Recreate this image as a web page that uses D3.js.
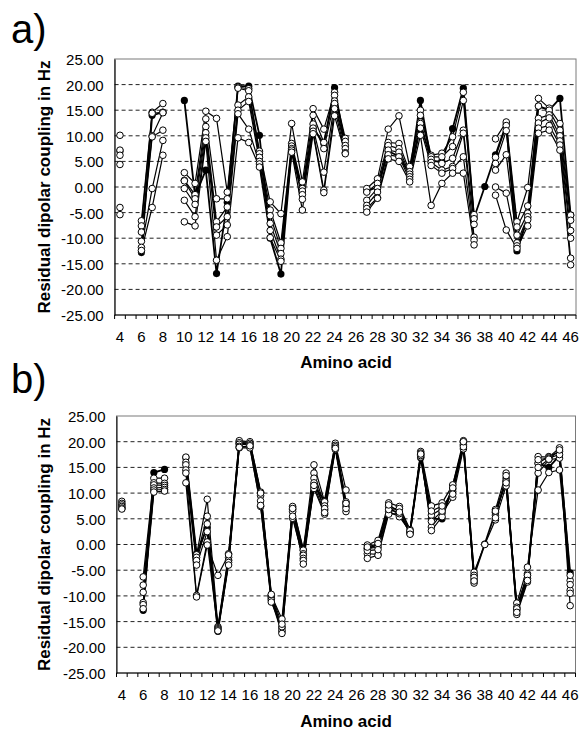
<!DOCTYPE html>
<html>
<head>
<meta charset="utf-8">
<script src="https://cdn.jsdelivr.net/npm/d3@7"></script>
<style>
  body { margin: 0; background: #fff; }
  svg { display: block; }
  text { font-family: "Liberation Sans", Arial, Helvetica, sans-serif; fill: #000; }
</style>
</head>
<body>
<svg id="chart" width="581" height="731"></svg>
<script>
// ============================= Datos =========================//
var residues = [4, 5, 6, 7, 8, 9, 10, 11, 12, 13, 14, 15, 16, 17, 18, 19, 20, 21, 22, 23, 24, 25,
  26, 27, 28, 29, 30, 31, 32, 33, 34, 35, 36, 37, 38, 39, 40, 41, 42, 43, 44, 45, 46];
var xLabels = [4, 6, 8, 10, 12, 14, 16, 18, 20, 22, 24, 26, 28, 30, 32, 34, 36, 38, 40, 42, 44, 46];
var yTicks = [-25, -20, -15, -10, -5, 0, 5, 10, 15, 20, 25];

// experimental couplings (filled circles), same in both panels
var experimental = [7.0, null, -12.8, 14.0, 14.6, null, 16.9, -1.8, 3.3, -16.9, -3.0, 19.7, 19.7, 10.1, -10.0, -17.0, 7.2, -1.1, 11.5, 8.5, 19.4, 8.0,
  null, -0.8, 0.0, 7.0, 6.0, 2.5, 16.9, 5.0, 5.0, 11.4, 19.3, -6.0, 0.1, 6.3, 12.3, -12.5, -6.0, 15.8, 15.0, 17.3, -5.5];

// panel a) calculated structures (open circles)
var calcA1 = [10.1, null, -6.6, 14.6, 16.3, null, 2.8, 0.7, 14.8, 13.4, -1.0, 19.5, 19.2, 7.0, -2.9, -5.2, 12.4, 1.0, 15.3, 11.3, 18.5, 9.5,
  null, -0.3, 1.6, 11.3, 13.9, 4.0, 15.0, 6.2, 6.6, 9.8, 18.5, -5.4, null, 9.4, 12.7, -6.8, -0.1, 17.3, 15.4, 12.4, -5.5];
var calcA2 = [7.2, null, -7.6, 14.4, 14.6, null, 1.3, -1.5, 13.3, -2.3, -2.3, 19.3, 18.8, 6.5, -4.5, -10.9, 8.5, -0.3, 14.0, 8.7, 17.9, 8.9,
  null, -1.0, 0.7, 8.7, 8.5, 3.0, 14.0, 5.9, 5.9, 7.9, 16.9, -6.2, null, 5.8, 12.0, -7.8, -3.7, 15.8, 15.0, 11.1, -6.5];
var calcA3 = [6.2, null, -8.8, 10.0, 14.5, null, 1.2, -2.3, 11.8, -6.8, -3.9, 16.0, 17.6, 5.8, -5.6, -12.0, 8.0, -0.8, 12.3, 7.5, 16.8, 8.1,
  null, -2.6, -0.3, 8.1, 7.5, 2.5, 12.7, 5.4, 4.6, 5.6, 11.1, -7.3, null, 4.6, 11.0, -9.4, -5.1, 13.4, 14.1, 10.0, -8.5];
var calcA4 = [4.4, null, -10.6, 9.8, 11.1, null, -0.3, -3.4, 10.6, -7.8, -5.8, 15.0, 16.7, 5.0, -7.1, -13.0, 7.5, -1.5, 11.5, 2.9, 16.3, 7.5,
  null, -3.6, -1.0, 7.2, 6.8, 2.0, 12.4, 4.8, 3.3, 4.0, 10.5, -9.8, null, 3.3, 6.3, -10.9, -5.8, 12.5, 13.5, 9.0, -10.0];
var calcA5 = [-4.0, null, -11.8, -0.3, 9.1, null, -2.6, -5.8, 9.6, -9.4, -7.4, 14.3, 11.3, 4.5, -8.5, -14.1, 7.2, -2.4, 10.9, -0.6, 15.3, 6.7,
  null, -4.2, -2.1, 6.3, 5.9, 1.5, 11.5, 4.2, 2.7, 3.6, 5.9, -10.4, null, 0.0, -1.2, -11.5, -6.4, 11.5, 12.0, 8.2, -13.9];
var calcA6 = [-5.4, null, -12.4, -4.0, 6.2, null, -6.8, -7.6, 8.9, -14.3, -9.7, 9.6, 8.7, 3.9, -9.9, -14.5, 6.8, -4.5, 10.4, -1.1, 13.9, 6.5,
  null, -4.9, -2.2, 5.5, 5.0, 1.0, 10.1, -3.6, 0.7, 2.7, 2.7, -11.3, null, -1.6, -8.4, -12.0, -7.6, 10.5, 11.1, 7.2, -15.2];

// panel b) calculated structures (open circles)
var calcB1 = [8.4, null, -6.3, 12.9, 12.9, null, 17.0, -2.0, 8.8, -16.0, -1.8, 20.2, 20.0, 10.2, -9.9, -14.5, 7.4, -1.1, 15.5, 8.3, 19.7, 10.6,
  null, -0.1, 0.8, 8.1, 7.4, 2.9, 18.1, 7.5, 8.1, 11.6, 20.2, -5.4, 0.0, 4.8, 11.4, -11.4, -4.4, 10.6, 14.0, 14.5, -7.0];
var calcB2 = [8.0, null, -7.9, 12.0, 11.9, null, 16.0, -2.5, 5.5, -16.2, -2.5, 19.8, 19.7, 9.5, -10.2, -16.2, 6.8, -1.8, 13.9, 7.5, 19.3, 8.3,
  null, -0.8, -0.5, 7.4, 6.7, 2.1, 17.0, 5.7, 7.0, 10.3, 19.4, -6.0, null, 5.7, 12.9, -12.2, -5.7, 13.9, 16.5, 16.8, -8.9];
var calcB3 = [7.7, null, -9.3, 11.6, 11.5, null, 15.5, -3.1, 4.0, -16.4, -3.1, 19.5, 19.4, 8.5, -10.5, -16.7, 6.4, -2.1, 12.9, 6.7, 18.9, 7.4,
  null, -1.8, -1.9, 6.4, 5.4, 2.5, 17.5, 3.4, 6.1, 9.2, 18.6, -6.8, null, 6.8, 13.9, -12.8, -6.6, 15.8, 17.1, 18.1, -11.9];
var calcB4 = [7.4, null, -11.3, 11.0, 11.1, null, 14.5, -4.0, 2.5, -16.6, -3.5, 19.1, 19.0, 7.4, -10.8, -17.3, 5.1, -2.7, 10.9, 5.9, 18.5, 6.4,
  null, -2.7, -2.1, 5.9, 6.0, 2.3, 17.8, 2.7, 5.4, 10.8, 19.8, -7.5, null, 6.2, 12.4, -13.6, -7.3, 17.1, 17.0, 18.8, -6.0];
var calcB5 = [7.1, null, -11.7, 10.6, 10.7, null, 13.9, -9.9, 0.5, -16.8, -4.0, 18.8, 18.8, 7.6, -11.2, -16.0, 5.5, -3.1, 12.0, 7.0, 19.0, 7.0,
  null, -1.2, -1.0, 6.8, 7.0, 2.7, 17.3, 4.5, 6.5, 11.0, 19.0, -6.4, null, 5.2, 13.4, -12.5, -6.0, 16.5, 16.8, 17.5, -9.5];
var calcB6 = [6.9, null, -12.5, 10.2, 10.4, null, 12.0, -10.2, -0.1, -6.0, -2.0, 18.9, 19.2, 10.0, -9.7, -15.5, 7.0, -3.8, 11.5, 6.2, 18.7, 8.0,
  null, -0.5, 0.2, 7.7, 6.3, 2.0, 17.6, 6.5, 7.5, 9.8, 20.0, -7.1, null, 6.5, 12.0, -13.2, -7.0, 15.0, 16.6, 18.4, -7.8];

// ============================= Armado de paneles =========================//
var svg = d3.select('#chart');

var fmt = d3.formatLocale({decimal: '.', thousands: ',', grouping: [3], currency: ['', ''], minus: '-'}).format('.2f');

var panels = [
  {tag: 'a)', tagY: 43, left: 114.6, right: 576, top: 59, bottom: 315, xLabelY: 342, titleY: 368,
    calc: [calcA1, calcA2, calcA3, calcA4, calcA5, calcA6]},
  {tag: 'b)', tagY: 393, left: 116.5, right: 575.5, top: 416, bottom: 673, xLabelY: 700, titleY: 727,
    calc: [calcB1, calcB2, calcB3, calcB4, calcB5, calcB6]}
];

function drawPanel(p) {
  var g = svg.append('g');

  var x = d3.scaleLinear().domain([3.5, 46.5]).range([p.left, p.right]);
  var y = d3.scaleLinear().domain([-25, 25]).range([p.bottom, p.top]);

  // plot area border
  g.append('rect')
    .attr('x', p.left).attr('y', p.top)
    .attr('width', p.right - p.left).attr('height', p.bottom - p.top)
    .attr('fill', 'none').attr('stroke', '#7a7a7a').attr('stroke-width', 1);

  // dashed gridlines
  g.selectAll('.grid')
    .data(yTicks.filter(function(d) { return d > -25 && d < 25; }))
    .enter().append('line')
      .attr('class', 'grid')
      .attr('x1', p.left).attr('x2', p.right)
      .attr('y1', function(d) { return y(d); })
      .attr('y2', function(d) { return y(d); })
      .attr('stroke', '#222').attr('stroke-width', 1)
      .attr('stroke-dasharray', '4,3');

  // y axis
  var yAxis = d3.axisLeft(y).tickValues(yTicks).tickSize(0).tickPadding(11).tickFormat(fmt);
  var ya = g.append('g').attr('transform', 'translate(' + p.left + ',0)').call(yAxis);
  ya.select('.domain').attr('stroke', '#000');
  ya.selectAll('text').style('font-size', '15px').attr('dy', '0.36em');

  // x axis, ticks between the categories
  var boundaries = residues.map(function(r) { return r - 0.5; }).concat([46.5]);
  var xa = g.append('g').attr('transform', 'translate(0,' + p.bottom + ')');
  xa.append('line')
    .attr('x1', p.left).attr('x2', p.right)
    .attr('stroke', '#000');
  xa.selectAll('.tk')
    .data(boundaries)
    .enter().append('line')
      .attr('class', 'tk')
      .attr('x1', function(d) { return x(d); })
      .attr('x2', function(d) { return x(d); })
      .attr('y1', 0).attr('y2', 4)
      .attr('stroke', '#000');

  g.selectAll('.xl')
    .data(xLabels)
    .enter().append('text')
      .attr('class', 'xl')
      .attr('x', function(d) { return x(d); })
      .attr('y', p.xLabelY)
      .attr('text-anchor', 'middle')
      .style('font-size', '15px')
      .text(function(d) { return d; });

  // titles
  g.append('text')
    .attr('x', 346).attr('y', p.titleY)
    .attr('text-anchor', 'middle')
    .style('font-size', '17px').style('font-weight', 'bold')
    .text('Amino acid');

  g.append('text')
    .attr('transform', 'translate(50,' + ((p.top + p.bottom) / 2) + ') rotate(-90)')
    .attr('text-anchor', 'middle')
    .style('font-size', '17px').style('font-weight', 'bold')
    .text('Residual dipolar coupling in Hz');

  g.append('text')
    .attr('x', 11).attr('y', p.tagY)
    .style('font-size', '40px')
    .text(p.tag);

  // series
  var line = d3.line()
    .defined(function(d) { return d.v != null; })
    .x(function(d) { return x(d.r); })
    .y(function(d) { return y(d.v); });

  var toPoints = function(arr) {
    return residues.map(function(r, i) { return {r: r, v: arr[i]}; });
  };

  var expPts = toPoints(experimental);
  var calcPts = p.calc.map(toPoints);

  g.append('path')
    .datum(expPts)
    .attr('d', line)
    .attr('fill', 'none').attr('stroke', '#000').attr('stroke-width', 1.8);

  calcPts.forEach(function(pts) {
    g.append('path')
      .datum(pts)
      .attr('d', line)
      .attr('fill', 'none').attr('stroke', '#000').attr('stroke-width', 1.2);
  });

  g.selectAll('.expdot')
    .data(expPts.filter(function(d) { return d.v != null; }))
    .enter().append('circle')
      .attr('class', 'expdot')
      .attr('cx', function(d) { return x(d.r); })
      .attr('cy', function(d) { return y(d.v); })
      .attr('r', 3.6)
      .attr('fill', '#000');

  calcPts.forEach(function(pts, k) {
    g.selectAll('.cdot' + k)
      .data(pts.filter(function(d) { return d.v != null; }))
      .enter().append('circle')
        .attr('class', 'cdot' + k)
        .attr('cx', function(d) { return x(d.r); })
        .attr('cy', function(d) { return y(d.v); })
        .attr('r', 3.3)
        .attr('fill', '#fff').attr('stroke', '#000').attr('stroke-width', 1);
  });
}

panels.forEach(drawPanel);
</script>
</body>
</html>
